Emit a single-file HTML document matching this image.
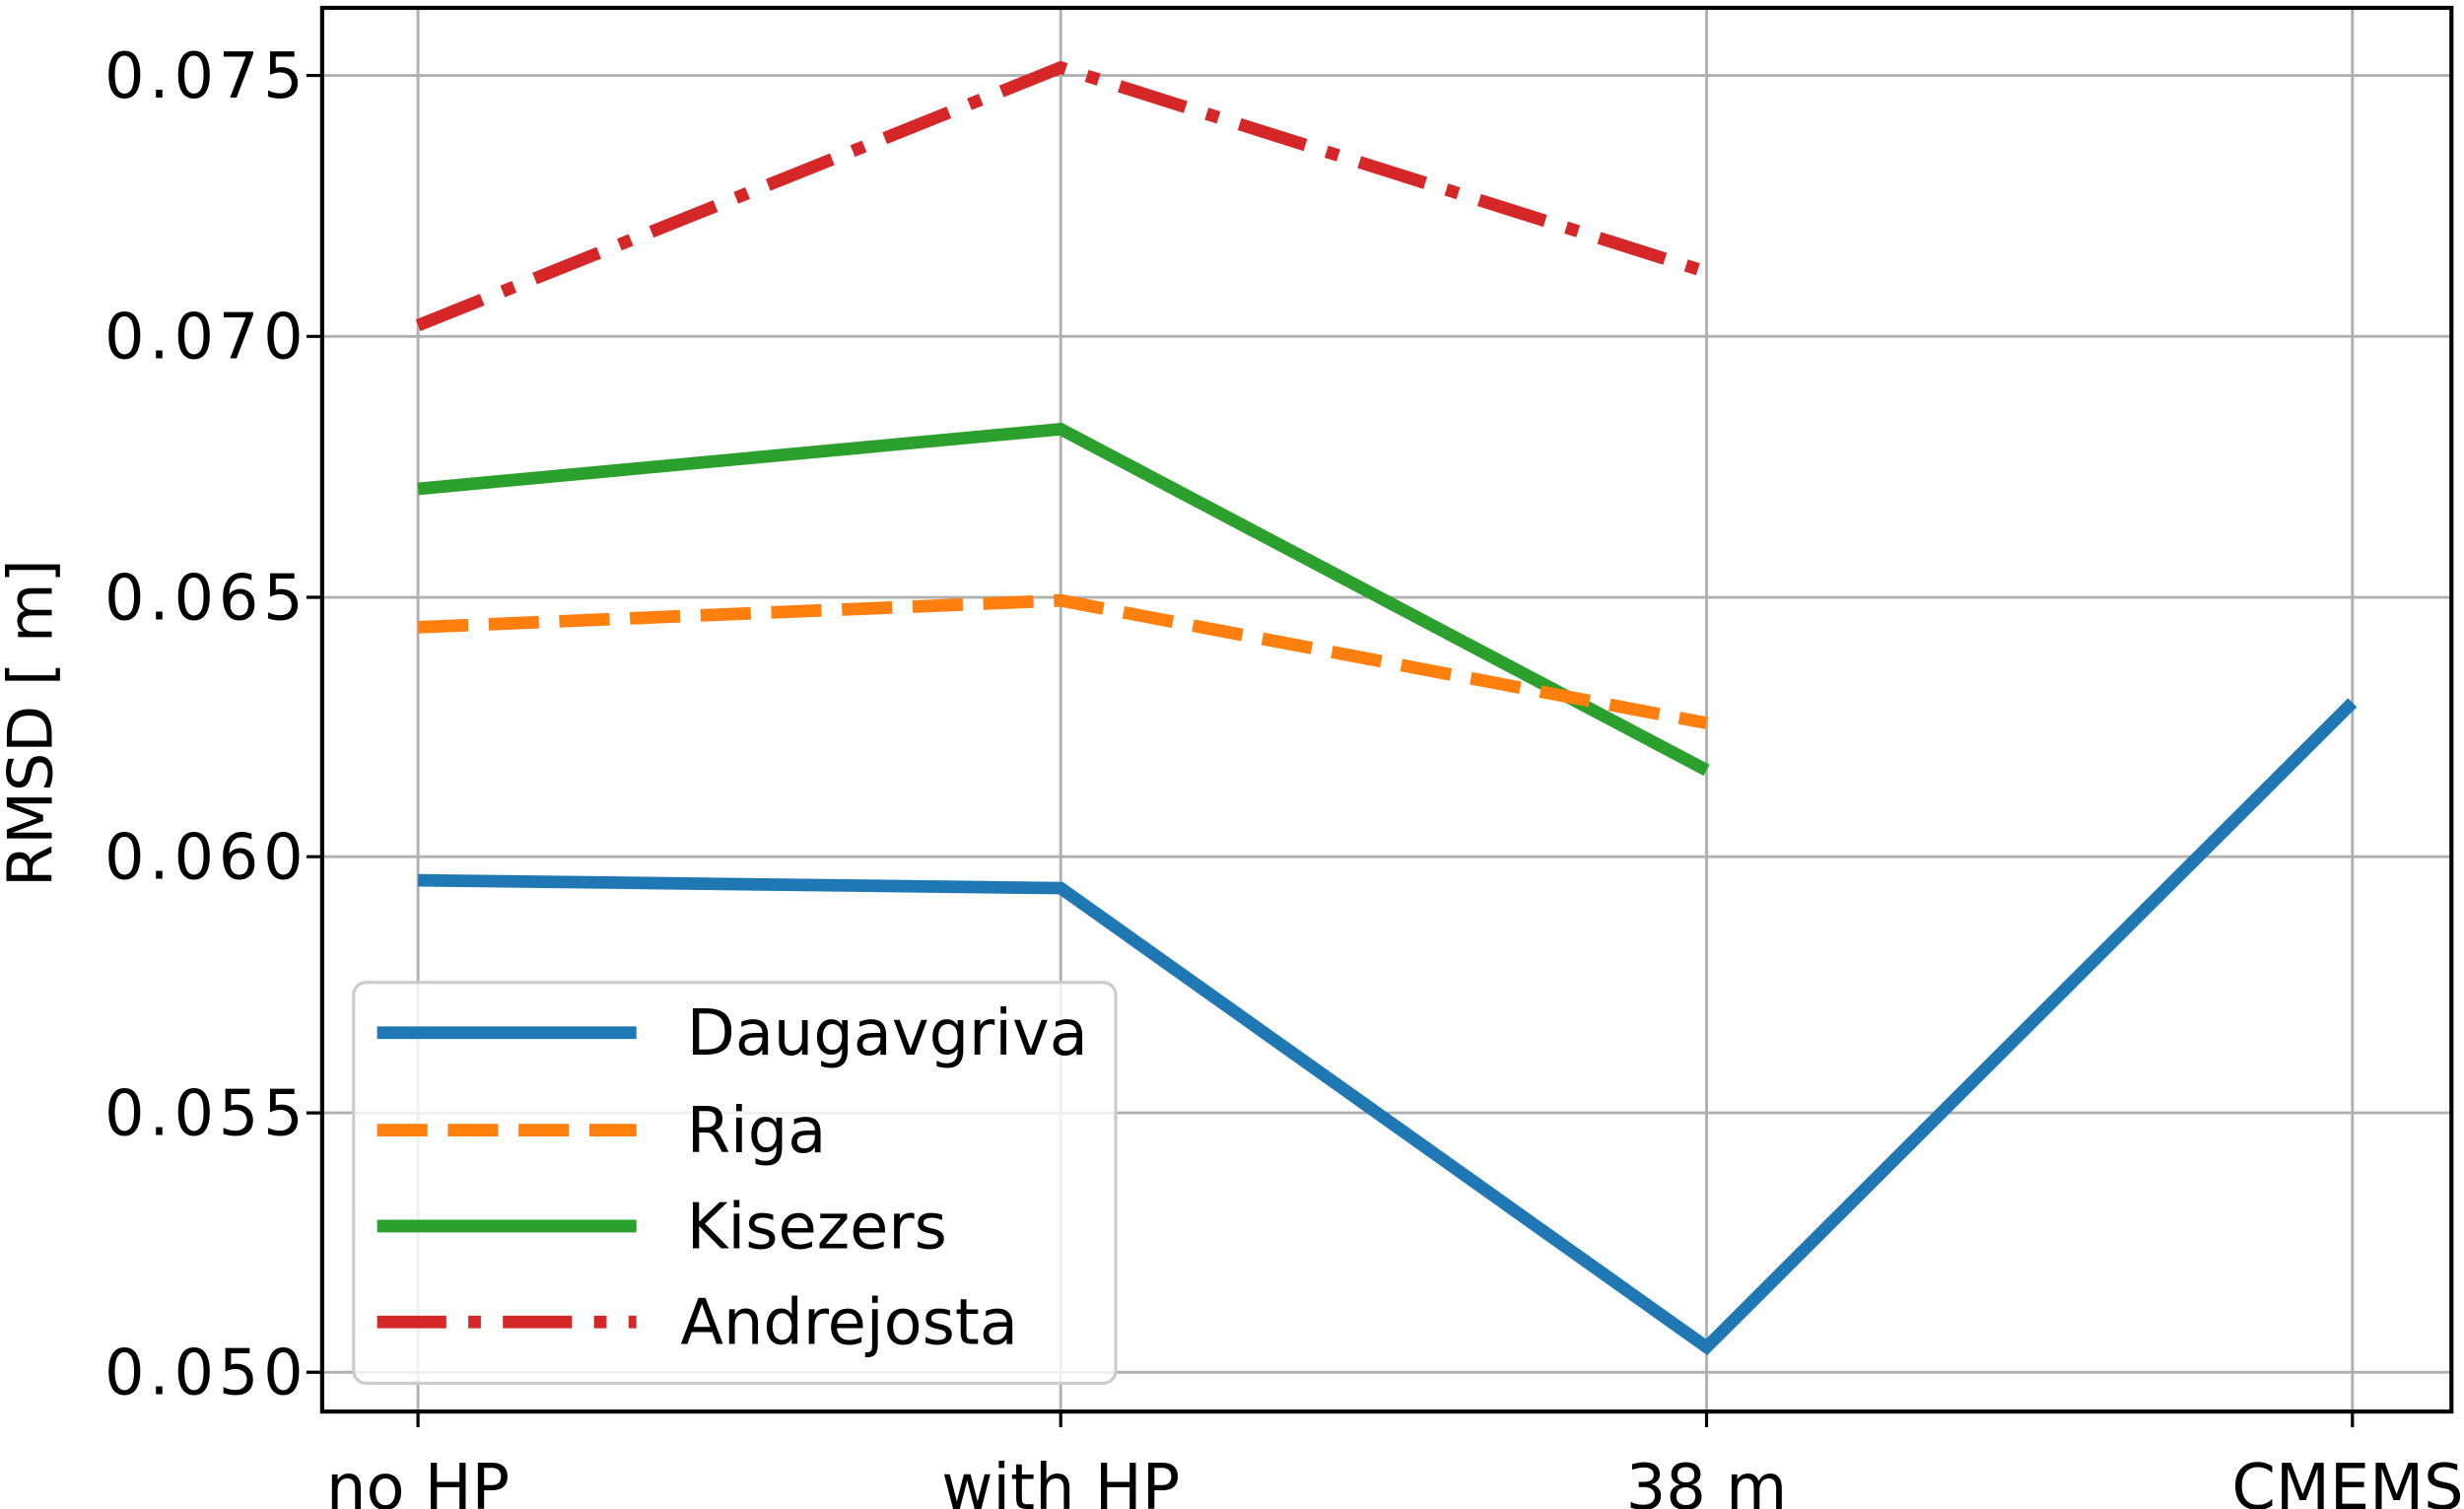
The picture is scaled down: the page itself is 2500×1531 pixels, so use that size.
<!DOCTYPE html>
<html><head><style>html,body{margin:0;padding:0;background:#fff;}svg{display:block}</style></head>
<body>
<svg width="2500" height="1531" viewBox="0 0 1568 960" preserveAspectRatio="none" xmlns="http://www.w3.org/2000/svg" font-family="'DejaVu Sans','Liberation Sans',sans-serif">
<rect width="1568" height="960" fill="#fff"/>
<g stroke="#b0b0b0" stroke-width="1.8">
<line x1="266" y1="5" x2="266" y2="898"/>
<line x1="675" y1="5" x2="675" y2="898"/>
<line x1="1086" y1="5" x2="1086" y2="898"/>
<line x1="1497" y1="5" x2="1497" y2="898"/>
<line x1="205" y1="48" x2="1560" y2="48"/>
<line x1="205" y1="214" x2="1560" y2="214"/>
<line x1="205" y1="380" x2="1560" y2="380"/>
<line x1="205" y1="545" x2="1560" y2="545"/>
<line x1="205" y1="708" x2="1560" y2="708"/>
<line x1="205" y1="873" x2="1560" y2="873"/>
</g>
<g fill="none" stroke-width="8">
<polyline points="266,207 675,43 1086,173" stroke="#d62728" stroke-dasharray="44,14,8,14"/>
<polyline points="266,311 675,273 1086,490" stroke="#2ca02c"/>
<polyline points="266,399 675,382 1086,460" stroke="#ff7f0e" stroke-dasharray="32,13"/>
<polyline points="266,560 675,565 1086,857 1497,447" stroke="#1f77b4"/>
</g>
<rect x="205" y="5" width="1355" height="893" fill="none" stroke="#000" stroke-width="2.6"/>
<g stroke="#000" stroke-width="2">
<line x1="266" y1="898" x2="266" y2="908"/><line x1="675" y1="898" x2="675" y2="908"/>
<line x1="1086" y1="898" x2="1086" y2="908"/><line x1="1497" y1="898" x2="1497" y2="908"/>
<line x1="195" y1="48" x2="205" y2="48"/><line x1="195" y1="214" x2="205" y2="214"/>
<line x1="195" y1="380" x2="205" y2="380"/><line x1="195" y1="545" x2="205" y2="545"/>
<line x1="195" y1="708" x2="205" y2="708"/><line x1="195" y1="873" x2="205" y2="873"/>
</g>
<g font-size="40" fill="#000" text-anchor="end" letter-spacing="3">
<text x="196" y="62">0.075</text><text x="196" y="228">0.070</text>
<text x="196" y="394">0.065</text><text x="196" y="559">0.060</text>
<text x="196" y="722">0.055</text><text x="196" y="887">0.050</text>
</g>
<g font-size="40" fill="#000" text-anchor="middle">
<text x="266" y="960">no HP</text><text x="675" y="960">with HP</text>
<text x="1086" y="960">38 m</text><text x="1494" y="960">CMEMS</text>
</g>
<text transform="translate(33,460) rotate(-90)" font-size="39" text-anchor="middle">RMSD [ m]</text>
<rect x="225" y="625" width="485" height="255" rx="8" fill="#fff" fill-opacity="0.8" stroke="#ccc" stroke-width="2"/>
<g fill="none" stroke-width="8">
<line x1="240" y1="657" x2="405" y2="657" stroke="#1f77b4"/>
<line x1="240" y1="719" x2="405" y2="719" stroke="#ff7f0e" stroke-dasharray="32,13"/>
<line x1="240" y1="780" x2="405" y2="780" stroke="#2ca02c"/>
<line x1="240" y1="841" x2="405" y2="841" stroke="#d62728" stroke-dasharray="44,14,8,14"/>
</g>
<g font-size="40" fill="#000">
<text x="437" y="671">Daugavgriva</text><text x="437" y="733">Riga</text>
<text x="437" y="794">Kisezers</text><text x="433" y="855">Andrejosta</text>
</g>
</svg>
</body></html>
